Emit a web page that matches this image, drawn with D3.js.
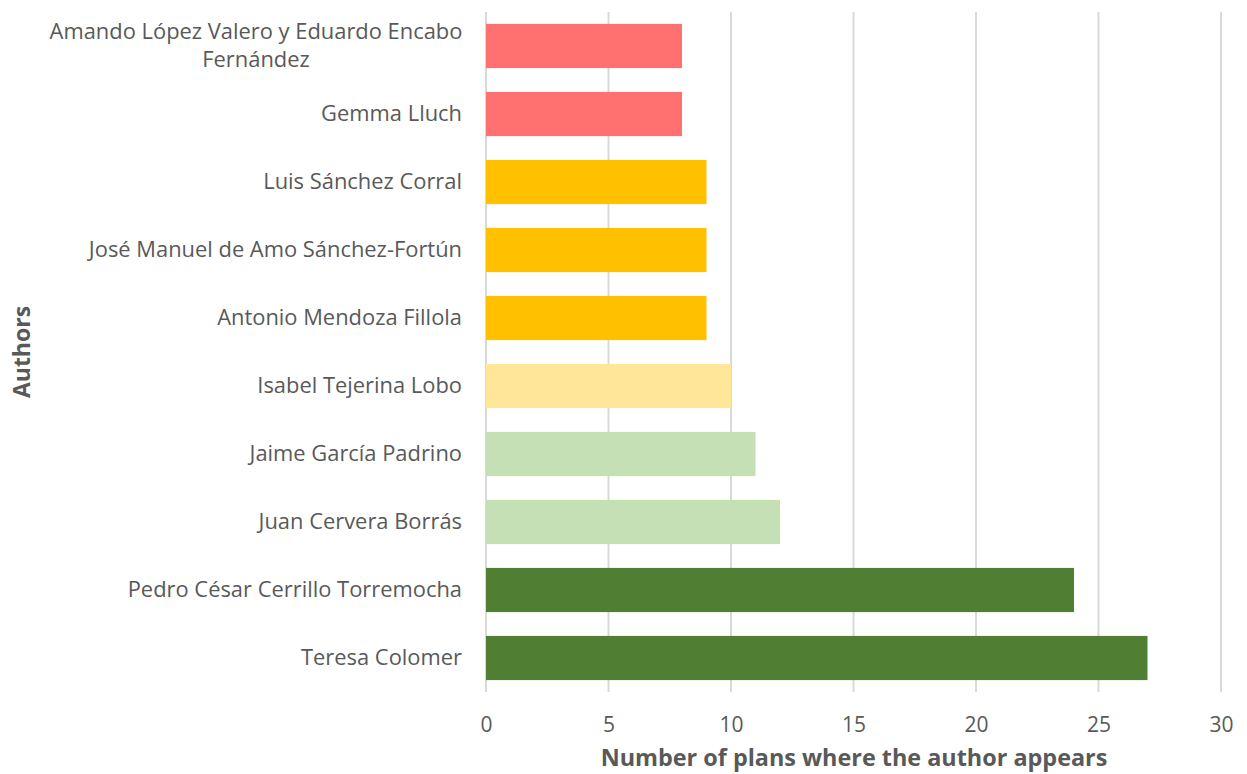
<!DOCTYPE html>
<html><head><meta charset="utf-8">
<script src="https://cdn.jsdelivr.net/npm/d3@7"></script>
<style>body{margin:0;background:#fff;} text{font-family:"Open Sans", sans-serif;}</style>
</head><body>
<svg id="c" width="1247" height="774"></svg>
<script>
const authors = ["Amando López Valero y Eduardo Encabo Fernández","Gemma Lluch","Luis Sánchez Corral","José Manuel de Amo Sánchez-Fortún","Antonio Mendoza Fillola","Isabel Tejerina Lobo","Jaime García Padrino","Juan Cervera Borrás","Pedro César Cerrillo Torremocha","Teresa Colomer"];
const plans = [8,8,9,9,9,10,11,12,24,27];
const barColors = ["#FF7070","#FF7070","#FFC000","#FFC000","#FFC000","#FFE699","#C5E0B4","#C5E0B4","#507E32","#507E32"];
const xTicks = [0,5,10,15,20,25,30];

const svg = d3.select("#c");
const m = {left:486, right:1247-1221, top:12, bottom:774-692};
const W = 1247, H = 774;
const x = d3.scaleLinear().domain([0,30]).range([m.left, W-m.right]);
const y = d3.scaleBand().domain(authors).range([m.top, H-m.bottom]).paddingInner(0.35).paddingOuter(0.175);

svg.append("g").selectAll("line").data(xTicks).join("line")
  .attr("x1",d=>x(d)).attr("x2",d=>x(d)).attr("y1",m.top).attr("y2",H-m.bottom)
  .attr("stroke","#D9D9D9").attr("stroke-width",2);

svg.append("g").selectAll("rect").data(authors).join("rect")
  .attr("x",x(0)).attr("y",d=>y(d)).attr("height",y.bandwidth())
  .attr("width",(d,i)=>x(plans[i])-x(0)).attr("fill",(d,i)=>barColors[i]);

const fs = 21.9;
const lab = svg.append("g");
authors.forEach((a,i)=>{
  const cy = y(a)+y.bandwidth()/2;
  if(a.length>40){
    const t = lab.append("text").attr("text-anchor","middle").attr("x",256).attr("font-size",fs).attr("fill","#595959");
    t.append("tspan").attr("x",256).attr("y",cy-14+7).text("Amando López Valero y Eduardo Encabo");
    t.append("tspan").attr("x",256).attr("y",cy+14+7).text("Fernández");
  } else {
    lab.append("text").attr("text-anchor","end").attr("x",462).attr("y",cy+7).attr("font-size",fs).attr("fill","#595959").text(a);
  }
});

const xa = d3.axisBottom(x).tickValues(xTicks).tickSize(0).tickPadding(0);
const gx = svg.append("g").attr("transform",`translate(0,${H-m.bottom})`).call(xa);
gx.select(".domain").remove();
gx.selectAll("text").attr("font-size",21).attr("fill","#595959").attr("dy",null).attr("y",40).style("font-family","\"Open Sans\", sans-serif");

svg.append("text").attr("x",854).attr("y",766).attr("text-anchor","middle").attr("font-size",23.4).attr("font-weight","bold").attr("fill","#595959").text("Number of plans where the author appears");
svg.append("text").attr("transform","translate(30,352) rotate(-90)").attr("text-anchor","middle").attr("font-size",23).attr("font-weight","bold").attr("fill","#595959").text("Authors");
</script>
</body></html>
